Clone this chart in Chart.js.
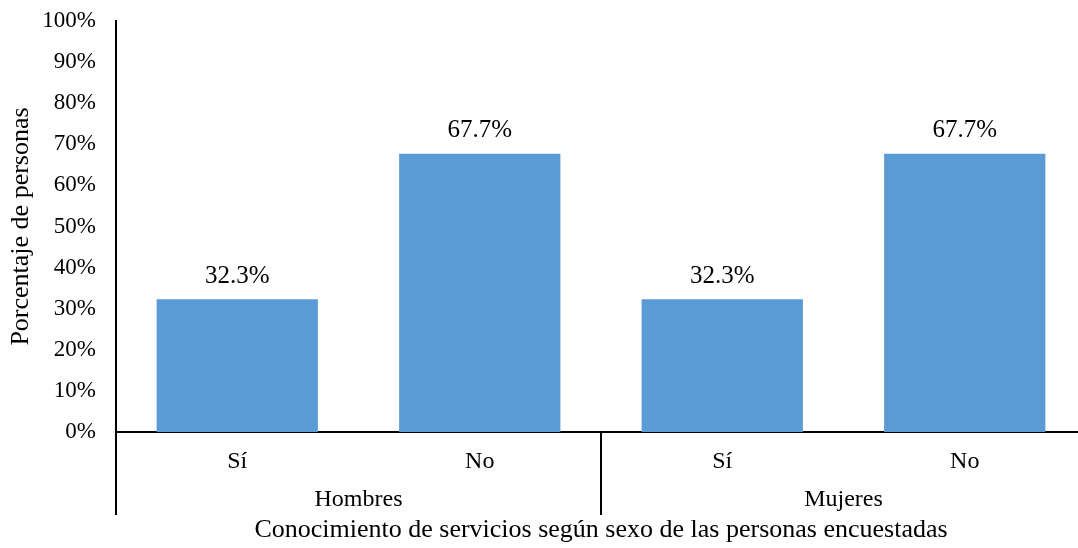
<!DOCTYPE html>
<html>
<head>
<meta charset="utf-8">
<script src="https://cdn.jsdelivr.net/npm/chart.js@4/dist/chart.umd.min.js"></script>
<style>
  html, body { margin: 0; padding: 0; background: #fff; overflow: hidden; }
  #wrap { width: 1090px; height: 548px; }
</style>
</head>
<body>
<div id="wrap"><canvas id="chart" width="1090" height="548"></canvas></div>
<script>
// categories and groups (two-level x axis)
var categories = ['Sí', 'No', 'Sí', 'No'];
var groups = ['Hombres', 'Hombres', 'Mujeres', 'Mujeres'];
var values = [32.3, 67.7, 32.3, 67.7];
var yTicks = [0, 10, 20, 30, 40, 50, 60, 70, 80, 90, 100];

const FONT = '"Liberation Serif", "Times New Roman", serif';

// draws value labels, group labels and group separators
const extras = {
    id: 'extras',
    afterDraw(chart) {
        const ctx = chart.ctx;
        const xs = chart.scales.x;
        const area = chart.chartArea;
        const meta = chart.getDatasetMeta(0);
        ctx.save();
        ctx.fillStyle = '#000';
        ctx.textAlign = 'center';
        ctx.textBaseline = 'middle';
        // value labels above bars
        ctx.font = '25px ' + FONT;
        meta.data.forEach((bar, i) => {
            ctx.fillText(values[i].toFixed(1) + '%', bar.x, bar.y - 23);
        });
        // group labels and separators
        ctx.font = '24px ' + FONT;
        const half = (xs.getPixelForValue(1) - xs.getPixelForValue(0)) / 2;
        let start = 0;
        for (let i = 1; i <= groups.length; i++) {
            if (i === groups.length || groups[i] !== groups[start]) {
                const x0 = xs.getPixelForValue(start) - half;
                const x1 = xs.getPixelForValue(i - 1) + half;
                ctx.fillText(groups[start], (x0 + x1) / 2, 500);
                ctx.strokeStyle = '#000';
                ctx.lineWidth = 2;
                ctx.beginPath();
                ctx.moveTo(Math.round(x0), area.bottom);
                ctx.lineTo(Math.round(x0), 515);
                ctx.stroke();
                start = i;
            }
        }
        ctx.restore();
    }
};

new Chart(document.getElementById('chart'), {
    type: 'bar',
    data: {
        labels: categories,
        datasets: [{
            data: values,
            backgroundColor: '#5B9BD5',
            borderWidth: 0,
            barPercentage: 0.665,
            categoryPercentage: 1.0
        }]
    },
    options: {
        responsive: false,
        animation: false,
        devicePixelRatio: 1,
        layout: { padding: { top: 21, right: 4, left: 0, bottom: 0 } },
        plugins: {
            legend: { display: false },
            tooltip: { enabled: false }
        },
        scales: {
            y: {
                min: 0,
                max: 100,
                afterFit: (s) => {
                    s.width = 116;
                    s.paddingTop = 0;
                    s.paddingBottom = 0;
                },
                afterBuildTicks: (s) => { s.ticks = yTicks.map(v => ({ value: v })); },
                grid: { display: false, drawTicks: false },
                border: { display: true, color: '#000', width: 2 },
                ticks: {
                    padding: 20,
                    color: '#000',
                    font: { family: FONT, size: 23 },
                    callback: (v) => v + '%'
                },
                title: {
                    display: true,
                    text: 'Porcentaje de personas',
                    color: '#000',
                    font: { family: FONT, size: 26 },
                    padding: { top: 6, bottom: 0 }
                }
            },
            x: {
                afterFit: (s) => { s.height = 116; },
                grid: { display: false, drawTicks: false },
                border: { display: true, color: '#000', width: 2 },
                ticks: {
                    padding: 15,
                    color: '#000',
                    font: { family: FONT, size: 24 }
                },
                title: {
                    display: true,
                    text: 'Conocimiento de servicios según sexo de las personas encuestadas',
                    color: '#000',
                    font: { family: FONT, size: 26 },
                    padding: { top: 0, bottom: 2 }
                }
            }
        }
    },
    plugins: [extras]
});
</script>
</body>
</html>
